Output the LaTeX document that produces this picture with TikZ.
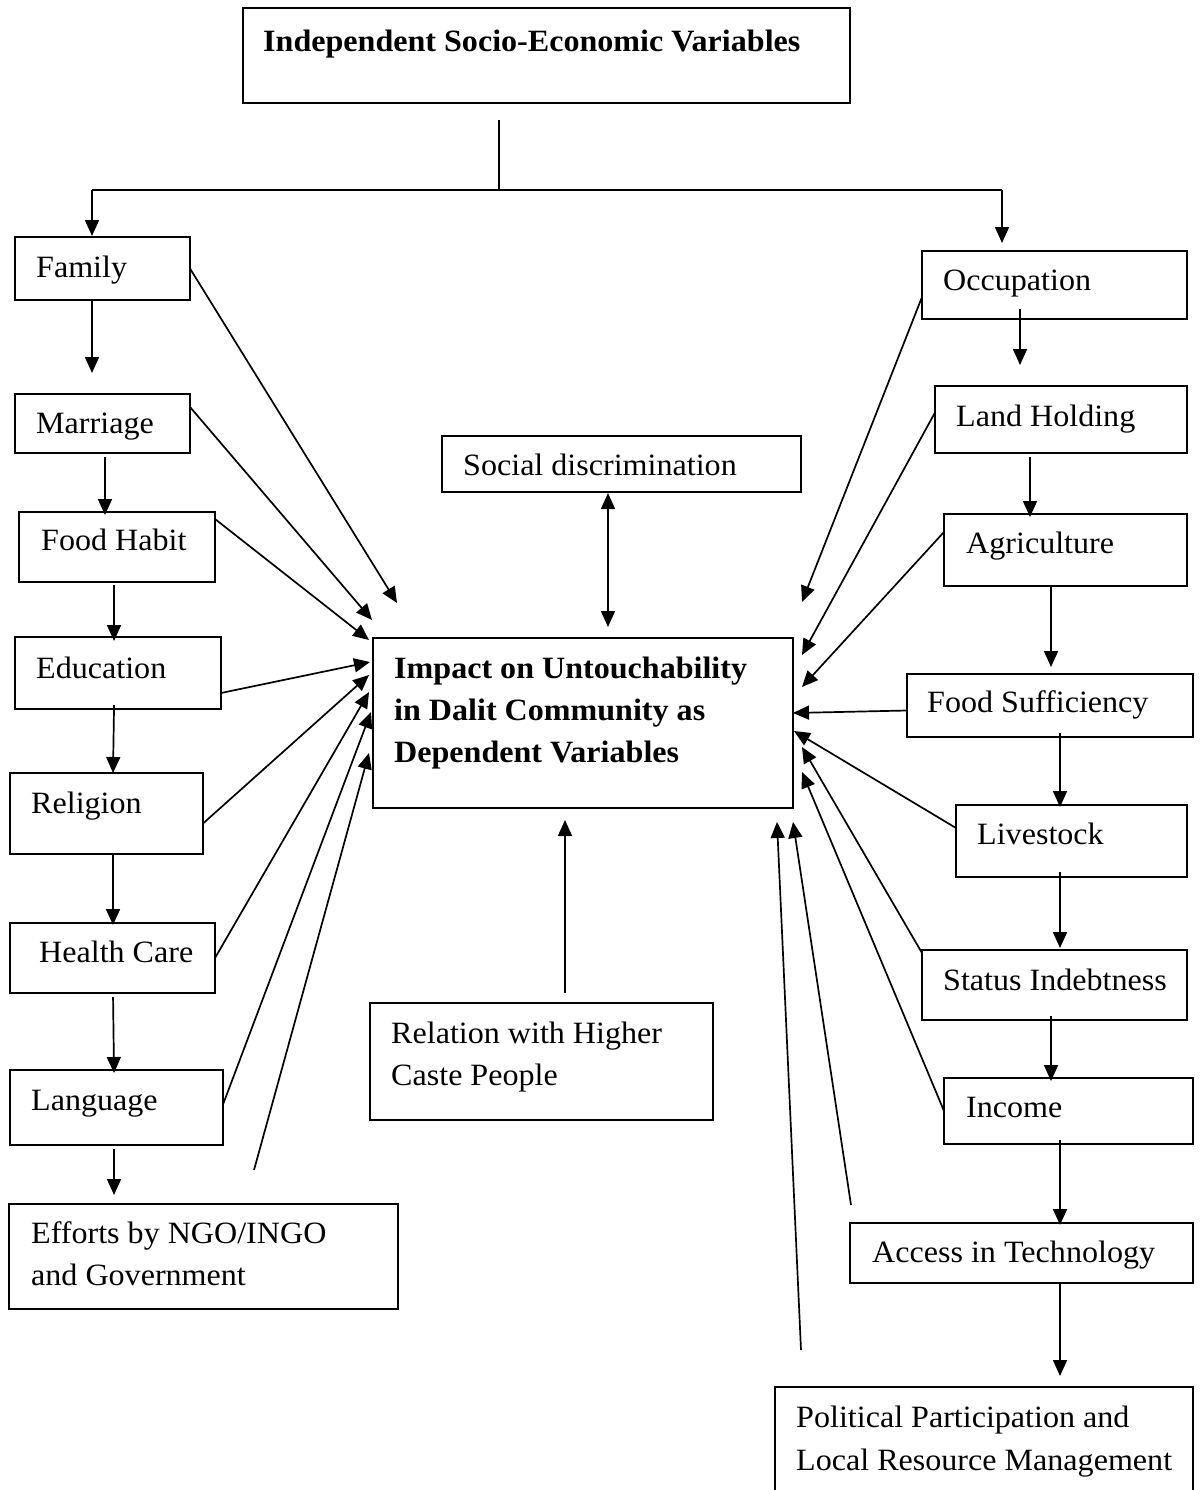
\documentclass[tikz,border=0pt]{standalone}
\usepackage{fontspec}
\setmainfont[FakeStretch=1.035]{Liberation Serif}
\usetikzlibrary{arrows.meta,calc}
\begin{document}
\begin{tikzpicture}[x=1pt,y=-1pt,
  box/.style={draw, line width=1.6pt, anchor=north west, inner sep=0pt, outer sep=0pt},
  lbl/.style={anchor=base west, inner sep=0pt, font=\fontsize{31}{42}\selectfont},
  blbl/.style={anchor=base west, inner sep=0pt, font=\fontsize{31}{42}\selectfont\bfseries},
  arr/.style={line width=1.7pt, -{Triangle[length=16pt,width=14pt]}},
  dblarr/.style={line width=1.7pt, {Triangle[length=16pt,width=14pt]}-{Triangle[length=16pt,width=14pt]}},
  ln/.style={line width=1.7pt}]
\clip (0,0) rectangle (1200,1490);
\fill[white] (0,0) rectangle (1200,1490);

% ---------- boxes ----------
\node[box, minimum width=607pt, minimum height=95pt] (top) at (243,8) {};
\node[box, minimum width=175pt, minimum height=63pt] (fam) at (15,237) {};
\node[box, minimum width=175pt, minimum height=59pt] (mar) at (15,394) {};
\node[box, minimum width=196pt, minimum height=70pt] (food) at (19,512) {};
\node[box, minimum width=206pt, minimum height=72pt] (edu) at (15,637) {};
\node[box, minimum width=193pt, minimum height=81pt] (rel) at (10,773) {};
\node[box, minimum width=205pt, minimum height=70pt] (hc) at (10,923) {};
\node[box, minimum width=213pt, minimum height=75pt] (lang) at (10,1070) {};
\node[box, minimum width=389pt, minimum height=105pt] (eff) at (9,1204) {};
\node[box, minimum width=420pt, minimum height=170pt] (imp) at (373,638) {};
\node[box, minimum width=359pt, minimum height=56pt] (soc) at (442,436) {};
\node[box, minimum width=343pt, minimum height=117pt] (caste) at (370,1003) {};
\node[box, minimum width=265pt, minimum height=68pt] (occ) at (922,251) {};
\node[box, minimum width=252pt, minimum height=67pt] (land) at (935,386) {};
\node[box, minimum width=243pt, minimum height=72pt] (agr) at (944,514) {};
\node[box, minimum width=286pt, minimum height=63pt] (fs) at (907,674) {};
\node[box, minimum width=231pt, minimum height=72pt] (live) at (956,805) {};
\node[box, minimum width=265pt, minimum height=70pt] (stat) at (922,950) {};
\node[box, minimum width=249pt, minimum height=66pt] (inc) at (944,1078) {};
\node[box, minimum width=343pt, minimum height=60pt] (acc) at (850,1223) {};
\node[box, minimum width=418pt, minimum height=130pt] (pol) at (775,1387) {};

% ---------- texts ----------
\node[blbl] (top-t) at (263,52) {Independent Socio-Economic Variables};
\node[lbl] (fam-t) at (36,277) {Family};
\node[lbl] (mar-t) at (36,433) {Marriage};
\node[lbl] (food-t) at (41,550) {Food Habit};
\node[lbl] (edu-t) at (36,678) {Education};
\node[lbl] (rel-t) at (31,813) {Religion};
\node[lbl] (hc-t) at (39,962) {Health Care};
\node[lbl] (lang-t) at (31,1110) {Language};
\node[lbl] (eff-t1) at (31,1243) {Efforts by NGO/INGO};
\node[lbl] (eff-t2) at (31,1285) {and Government};
\node[blbl] (imp-t1) at (394,678) {Impact on Untouchability};
\node[blbl] (imp-t2) at (394,720) {in Dalit Community as};
\node[blbl] (imp-t3) at (394,762) {Dependent Variables};
\node[lbl] (soc-t) at (463,475) {Social discrimination};
\node[lbl] (caste-t1) at (391,1043) {Relation with Higher};
\node[lbl] (caste-t2) at (391,1085) {Caste People};
\node[lbl] (occ-t) at (943,290) {Occupation};
\node[lbl] (land-t) at (956,426) {Land Holding};
\node[lbl] (agr-t) at (966,553) {Agriculture};
\node[lbl] (fs-t) at (927,712) {Food Sufficiency};
\node[lbl] (live-t) at (977,844) {Livestock};
\node[lbl] (stat-t) at (943,990) {Status Indebtness};
\node[lbl] (inc-t) at (966,1117) {Income};
\node[lbl] (acc-t) at (872,1262) {Access in Technology};
\node[lbl] (pol-t1) at (796,1427) {Political Participation and};
\node[lbl] (pol-t2) at (796,1470) {Local Resource Management};

% ---------- free ends ----------
\coordinate (v1) at (499,120);
\coordinate (v2) at (499,190);
\coordinate (famtip) at (92,236);
\coordinate (occtip) at (1002,243);
% left tips
\coordinate (lt1) at (397,603);
\coordinate (lt2) at (372,620);
\coordinate (lt3) at (369,640);
\coordinate (lt4) at (370,662);
\coordinate (lt5) at (369,675);
\coordinate (lt6) at (369,692);
\coordinate (lt7) at (371,712);
\coordinate (lt8) at (369,753);
\coordinate (ltail8) at (254,1170);
% right tips
\coordinate (rt1) at (802,602);
\coordinate (rt2) at (802,655);
\coordinate (rt3) at (802,687);
\coordinate (rt4) at (793,713);
\coordinate (rt5) at (794,731);
\coordinate (rt6) at (802,747);
\coordinate (rt7) at (802,772);
\coordinate (rt8) at (793,822);
\coordinate (rt9) at (777,822);
\coordinate (rtail8) at (851,1205);
\coordinate (rtail9) at (801,1350);

% ---------- top split ----------
\draw[ln] (v1) -- (v2);
\draw[ln] (famtip |- v2) -- (occtip |- v2);
\draw[arr] (famtip |- v2) -- (famtip);
\draw[arr] (occtip |- v2) -- (occtip);

% ---------- left chain ----------
\draw[arr, shorten >=21pt] (fam.south -| 92,0) -- (mar.north -| 92,0);
\draw[arr, shorten <=4pt, shorten >=-3pt] (mar.south -| 105,0) -- (food.north -| 105,0);
\draw[arr, shorten <=3pt, shorten >=-4pt] (food.south -| 114,0) -- (edu.north -| 114,0);
\draw[arr, shorten <=-4pt] (edu.south -| 114,0) -- (rel.north -| 113,0);
\draw[arr, shorten >=-2pt] (rel.south -| 113,0) -- (hc.north -| 113,0);
\draw[arr, shorten <=4pt, shorten >=-3pt] (hc.south -| 113,0) -- (lang.north -| 114,0);
\draw[arr, shorten <=4pt, shorten >=9pt] (lang.south -| 114,0) -- (eff.north -| 114,0);

% ---------- right chain ----------
\draw[arr, shorten <=-10pt, shorten >=21pt] (occ.south -| 1020,0) -- (land.north -| 1020,0);
\draw[arr, shorten <=4pt, shorten >=-3pt] (land.south -| 1030,0) -- (agr.north -| 1030,0);
\draw[arr, shorten <=1pt, shorten >=7pt] (agr.south -| 1051,0) -- (fs.north -| 1051,0);
\draw[arr, shorten <=-4pt, shorten >=-2pt] (fs.south -| 1060,0) -- (live.north -| 1060,0);
\draw[arr, shorten <=-5pt, shorten >=2pt] (live.south -| 1060,0) -- (stat.north -| 1060,0);
\draw[arr, shorten <=-4pt, shorten >=-3pt] (stat.south -| 1051,0) -- (inc.north -| 1051,0);
\draw[arr, shorten <=-4pt, shorten >=-2pt] (inc.south -| 1060,0) -- (acc.north -| 1060,0);
\draw[arr, shorten >=11pt] (acc.south -| 1060,0) -- (pol.north -| 1060,0);

% ---------- left diagonals ----------
\draw[arr] (fam.east) -- (lt1);
\draw[arr] ([yshift=-13pt]mar.north east) -- (lt2);
\draw[arr] ([yshift=-7pt]food.north east) -- (lt3);
\draw[arr] ([yshift=16pt]edu.south east) -- (lt4);
\draw[arr] ([yshift=-10pt]rel.east) -- (lt5);
\draw[arr] (hc.east) -- (lt6);
\draw[arr] ([yshift=3pt]lang.east) -- (lt7);
\draw[arr] (ltail8) -- (lt8);

% ---------- right diagonals ----------
\draw[arr] ([yshift=22pt]occ.south west) -- (rt1);
\draw[arr] ([yshift=7pt]land.west) -- (rt2);
\draw[arr] ([yshift=18pt]agr.west) -- (rt3);
\draw[arr] ([yshift=-5pt]fs.west) -- (rt4);
\draw[arr] ([yshift=13pt]live.west) -- (rt5);
\draw[arr] ([yshift=-3pt]stat.north west) -- (rt6);
\draw[arr] (inc.west) -- (rt7);
\draw[arr] (rtail8) -- (rt8);
\draw[arr] (rtail9) -- (rt9);

% ---------- centre links ----------
\draw[dblarr, shorten <=1pt, shorten >=11pt] (soc.south -| 608,0) -- (imp.north -| 608,0);
\draw[arr, shorten <=10pt, shorten >=12pt] (caste.north -| 565,0) -- (imp.south -| 565,0);
\end{tikzpicture}
\end{document}
